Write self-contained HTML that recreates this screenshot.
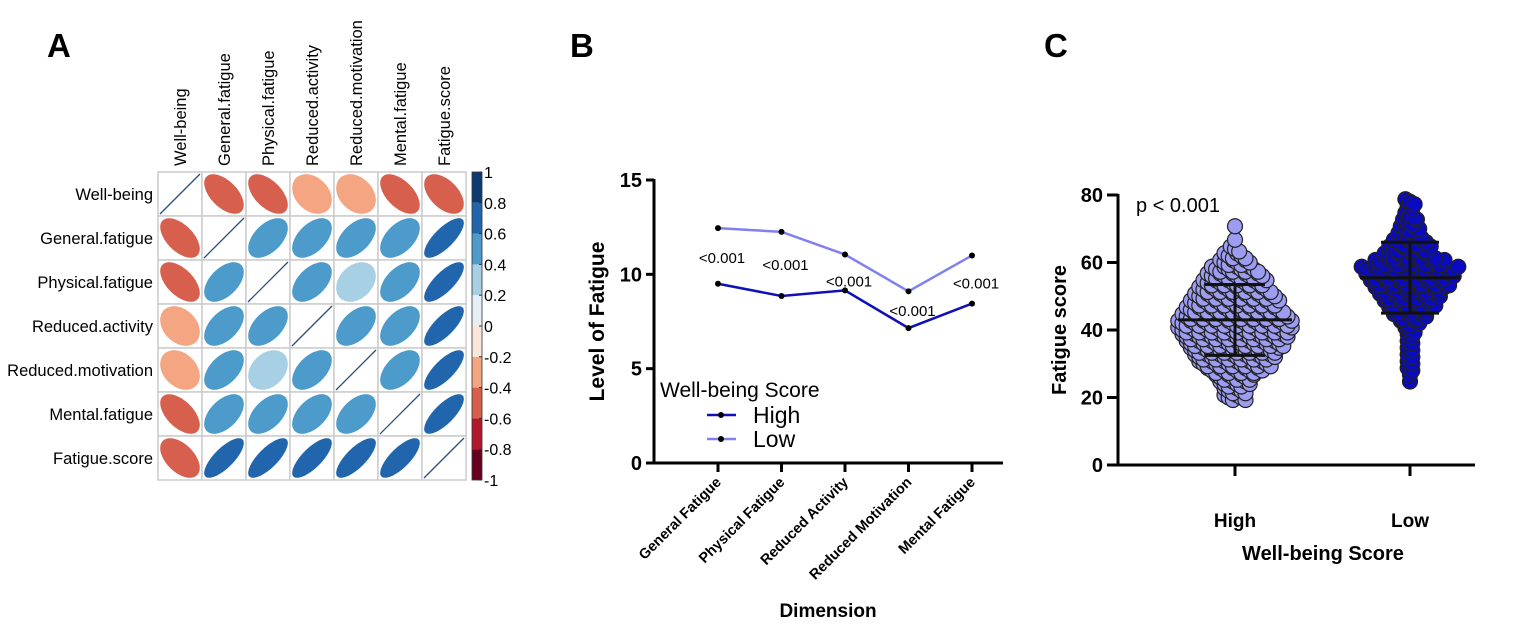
<!DOCTYPE html>
<html><head><meta charset="utf-8"><style>
html,body{margin:0;padding:0;background:#fff;}
svg{display:block;font-family:"Liberation Sans",Arial,sans-serif;}
</style></head><body>
<svg id="fig" width="1535" height="628" viewBox="0 0 1535 628" xmlns="http://www.w3.org/2000/svg">
<text x="47" y="57" font-size="33" font-weight="bold">A</text>
<text x="570" y="57" font-size="33" font-weight="bold">B</text>
<text x="1044" y="57" font-size="33" font-weight="bold">C</text>
<g id="pa"></g>
<g id="pb"></g>
<g id="pc"></g>
</svg>
<script>
const NS="http://www.w3.org/2000/svg";
// ---- Panel A data ----
const corrVars=["Well-being","General.fatigue","Physical.fatigue","Reduced.activity","Reduced.motivation","Mental.fatigue","Fatigue.score"];
const corrRow0=[1,-0.55,-0.55,-0.3,-0.3,-0.55,-0.5];
const corrRow1=[-0.55,1,0.5,0.5,0.5,0.5,0.75];
const corrRow2=[-0.55,0.5,1,0.5,0.3,0.5,0.75];
const corrRow3=[-0.3,0.5,0.5,1,0.5,0.5,0.75];
const corrRow4=[-0.3,0.5,0.3,0.5,1,0.5,0.75];
const corrRow5=[-0.55,0.5,0.5,0.5,0.5,1,0.75];
const corrRow6=[-0.5,0.75,0.75,0.75,0.75,0.75,1];
const cbTicks=["1","0.8","0.6","0.4","0.2","0","-0.2","-0.4","-0.6","-0.8","-1"];
// ---- Panel B data ----
const dims=["General Fatigue","Physical Fatigue","Reduced Activity","Reduced Motivation","Mental Fatigue"];
const highVals=[9.5,8.85,9.15,7.15,8.45];
const lowVals=[12.45,12.25,11.05,9.1,11.0];
const pLabels=["<0.001","<0.001","<0.001","<0.001","<0.001"];
const bTicks=[0,5,10,15];
// ---- Panel C data ----
const groups=["High","Low"];
const highBins=[20,22,24,26,28,30,32,34,36,38,40,42,44,46,48,50,52,54,56,58,60,62,64,66,70];
const highCounts=[6,6,8,10,14,18,20,22,24,26,28,28,26,24,22,20,18,16,14,12,8,6,3,1,1];
const lowBins=[24,26,28,30,32,34,36,38,40,42,44,46,48,50,52,54,56,58,60,62,64,66,68,70,72,74,76,78];
const lowCounts=[1,1,2,2,2,2,2,2,3,5,8,10,12,14,16,18,20,22,16,12,10,8,6,5,4,3,2,3];
const groupMean=[43,55.5];
const groupSD=[10.5,10.5];
const cTicks=[0,20,40,60,80];

function mk(p,tag,a,txt){const e=document.createElementNS(NS,tag);for(const k in a)e.setAttribute(k,a[k]);if(txt!==undefined)e.textContent=txt;p.appendChild(e);return e;}

// ===== Panel A =====
(function(){
const g=document.getElementById('pa');
const x0=158,y0=172,cs=44;const rows=[corrRow0,corrRow1,corrRow2,corrRow3,corrRow4,corrRow5,corrRow6];
const cols=["#67001F","#B2182B","#D6604D","#F4A582","#FBE6DA","#E6EFF5","#A8D0E4","#4C9BCB","#2166AC","#0B3B72"];
function col(r){let i=Math.floor((r+1)/0.2);if(i>9)i=9;if(i<0)i=0;return cols[i];}
corrVars.forEach((v,i)=>{
  const t=mk(g,'text',{x:0,y:0,'font-size':16.5,'text-anchor':'start',transform:`translate(${x0+cs*i+cs/2+6},${y0-6}) rotate(-90)`},v);
  
  
  const r=mk(g,'text',{x:x0-5,y:y0+cs*i+cs/2+6,'font-size':16.5,'text-anchor':'end'},v);
  
  
});
rows.forEach((row,i)=>row.forEach((val,j)=>{
  const cx=x0+cs*j+cs/2,cy=y0+cs*i+cs/2;
  const c=mk(g,'rect',{x:x0+cs*j,y:y0+cs*i,width:cs,height:cs,fill:'#fff',stroke:'#ccc','stroke-width':1.5});
  
  
  if(i===j){const l=mk(g,'line',{x1:cx-20,y1:cy+20,x2:cx+20,y2:cy-20,stroke:'#2c4f87','stroke-width':1.3});
    return;}
  const d=Math.acos(val),s=cs*0.45;let pts=[];
  for(let k=0;k<60;k++){const t=k/60*2*Math.PI;pts.push((cx+s*Math.cos(t+d/2)).toFixed(1)+','+(cy-s*Math.cos(t-d/2)).toFixed(1));}
  const e=mk(g,'polygon',{points:pts.join(' '),fill:col(val)});
  
  
}));
const bx=472,bw=10,by=y0,bh=cs*7;
for(let k=0;k<10;k++){const r=mk(g,'rect',{x:bx,y:by+bh-(k+1)*bh/10,width:bw,height:bh/10,fill:cols[k]});
  }
mk(g,'rect',{x:bx,y:by,width:bw,height:bh,fill:'none',stroke:'#333','stroke-width':0.8});
cbTicks.forEach((t,k)=>{const y=by+k*bh/10;
  mk(g,'line',{x1:bx+bw-3,x2:bx+bw,y1:y,y2:y,stroke:'#333'});
  const tt=mk(g,'text',{x:bx+bw+2,y:y+6,'font-size':16},t);
  });
})();

// ===== Panel B =====
(function(){
const g=document.getElementById('pb');
const ax=654,ay0=463,ay15=180,xEnd=1003;
const ys=v=>ay0-(v/15)*(ay0-ay15);
const xs=i=>718+i*63.5;
mk(g,'line',{x1:ax,y1:ay15-1,x2:ax,y2:ay0,stroke:'#000','stroke-width':3});
mk(g,'line',{x1:ax-8,y1:ay0,x2:xEnd,y2:ay0,stroke:'#000','stroke-width':3});
bTicks.forEach(t=>{mk(g,'line',{x1:ax-8,x2:ax,y1:ys(t),y2:ys(t),stroke:'#000','stroke-width':3});
  const l=mk(g,'text',{x:ax-12,y:ys(t)+7,'font-size':20,'font-weight':'bold','text-anchor':'end'},t);
  });
dims.forEach((d,i)=>{mk(g,'line',{x1:xs(i),x2:xs(i),y1:ay0,y2:ay0+9,stroke:'#000','stroke-width':3});
  const l=mk(g,'text',{x:0,y:0,'font-size':14.5,'font-weight':'bold','text-anchor':'end',transform:`translate(${xs(i)+4},${ay0+20}) rotate(-45)`},d);
  });
const yt=mk(g,'text',{x:0,y:0,'font-size':21,'font-weight':'bold','text-anchor':'middle',transform:`translate(604,${(ay0+ay15)/2}) rotate(-90)`},'Level of Fatigue');

const xt=mk(g,'text',{x:828,y:617,'font-size':19,'font-weight':'bold','text-anchor':'middle'},'Dimension');

[[lowVals,'#8080ee','low-series'],[highVals,'#1010b8','high-series']].forEach(([vals,c,n])=>{
  const pl=mk(g,'polyline',{points:vals.map((v,i)=>xs(i)+','+ys(v)).join(' '),fill:'none',stroke:c,'stroke-width':2.5});
  
  vals.forEach((v,i)=>{const p=mk(g,'circle',{cx:xs(i),cy:ys(v),r:3,fill:'#000'});
    });
});
const pOff=[35,38,-7,14,33];
pLabels.forEach((p,i)=>{
  const base=(i===2||i===3)?ys(highVals[i]):ys(lowVals[i]);
  const y=(i===3)?ys(highVals[i])-12:base+pOff[i];
  const t=mk(g,'text',{x:xs(i)+4,y:(i===2?ys(highVals[i])-4:y),'font-size':15,'text-anchor':'middle'},p);
  });
const lt=mk(g,'text',{x:660,y:397,'font-size':21},'Well-being Score');

[['High','#1010b8',415],['Low','#8080ee',439]].forEach(([n,c,y])=>{
  mk(g,'line',{x1:707,x2:736,y1:y,y2:y,stroke:c,'stroke-width':2.5});
  mk(g,'circle',{cx:721,cy:y,r:3,fill:'#000'});
  const t=mk(g,'text',{x:753,y:y+8,'font-size':23},n);
  });
})();

// ===== Panel C =====
(function(){
const g=document.getElementById('pc');
const ax=1118,ay0=465,ay80=195,xEnd=1475;
const ys=v=>ay0-(v/80)*(ay0-ay80);
const gx=[1235,1410];
const cols=['#9c9cf0','#0a0ac0'];
const bins=[highBins,lowBins],counts=[highCounts,lowCounts];
[0,1].forEach(gi=>{
  bins[gi].forEach((b,k)=>{const n=counts[gi][k];const sp=gi?4.6:4.2;
    for(let m=0;m<n;m++){const off=(m-(n-1)/2)*sp;
      const c=mk(g,'circle',{cx:gx[gi]+off,cy:ys(b)+((m%3)-1)*2.5,r:7.5,fill:cols[gi],stroke:'#222','stroke-width':1.2});
      }
  });
  const m=groupMean[gi],s=groupSD[gi];
  const w1=[57,50][gi],w2=[30,29][gi];
  mk(g,'line',{x1:gx[gi]-w1,x2:gx[gi]+w1,y1:ys(m),y2:ys(m),stroke:'#111','stroke-width':3});
  mk(g,'line',{x1:gx[gi],x2:gx[gi],y1:ys(m-s),y2:ys(m+s),stroke:'#111','stroke-width':3});
  [m-s,m+s].forEach(v=>mk(g,'line',{x1:gx[gi]-w2,x2:gx[gi]+w2,y1:ys(v),y2:ys(v),stroke:'#111','stroke-width':3}));
});
mk(g,'line',{x1:ax,y1:ay80-1,x2:ax,y2:ay0,stroke:'#000','stroke-width':3});
mk(g,'line',{x1:ax-11,y1:ay0,x2:xEnd,y2:ay0,stroke:'#000','stroke-width':3});
cTicks.forEach(t=>{mk(g,'line',{x1:ax-11,x2:ax,y1:ys(t),y2:ys(t),stroke:'#000','stroke-width':3});
  const l=mk(g,'text',{x:ax-15,y:ys(t)+7,'font-size':20,'font-weight':'bold','text-anchor':'end'},t);
  });
groups.forEach((n,i)=>{mk(g,'line',{x1:gx[i],x2:gx[i],y1:ay0,y2:ay0+11,stroke:'#000','stroke-width':3});
  const l=mk(g,'text',{x:gx[i],y:527,'font-size':19,'font-weight':'bold','text-anchor':'middle'},n);
  });
const yt=mk(g,'text',{x:0,y:0,'font-size':20,'font-weight':'bold','text-anchor':'middle',transform:`translate(1066,330) rotate(-90)`},'Fatigue score');

const xt=mk(g,'text',{x:1323,y:560,'font-size':20,'font-weight':'bold','text-anchor':'middle'},'Well-being Score');

const pt=mk(g,'text',{x:1136,y:212,'font-size':20},'p < 0.001');

})();
</script>
</body></html>
